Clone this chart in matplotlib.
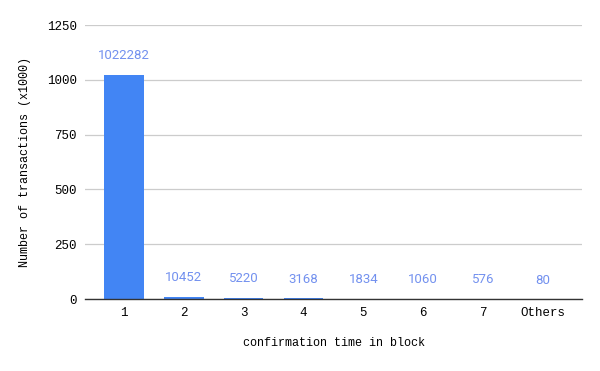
import numpy as np
import matplotlib.pyplot as plt

# Data
categories = ['1', '2', '3', '4', '5', '6', '7', 'Others']
tx_counts = [1022282, 10452, 5220, 3168, 1834, 1060, 576, 80]
y_ticks = [0, 250, 500, 750, 1000, 1250]

bar_color = '#4285f4'
label_color = '#7391ef'
mono = 'Liberation Mono'

heights = np.array(tx_counts) / 1000.0
x = np.arange(len(categories))

fig = plt.figure(figsize=(6, 3.71), dpi=100)
ax = fig.add_axes([0.1417, 0.194, 0.8283, 0.7386])

bars = ax.bar(x, heights, width=0.66, color=bar_color, zorder=3)

for xi, h, v in zip(x, heights, tx_counts):
    ax.annotate(str(v), (xi, h), xytext=(0, 9), textcoords='offset points',
                ha='center', va='bottom', color=label_color,
                fontsize=9.5, family='Roboto')

ax.set_xlim(-0.65, len(categories) - 0.35)
ax.set_ylim(0, 1250)
ax.set_yticks(y_ticks)
ax.set_yticklabels([str(t) for t in y_ticks], family=mono, fontsize=9)
ax.set_xticks(x)
ax.set_xticklabels(categories, family=mono, fontsize=9)
ax.tick_params(axis='both', length=0, pad=6)

ax.grid(axis='y', color='#cccccc', linewidth=0.9, zorder=0)
for side in ['top', 'right', 'left']:
    ax.spines[side].set_visible(False)
ax.spines['bottom'].set_color('#333333')
ax.spines['bottom'].set_linewidth(1.0)
ax.spines['bottom'].set_zorder(4)

ax.set_xlabel('confirmation time in block', family=mono, fontsize=8.5, labelpad=13)
ax.set_ylabel('Number of transactions (x1000)', family=mono, fontsize=8.5, labelpad=11)

plt.savefig('out.png', dpi=100)
